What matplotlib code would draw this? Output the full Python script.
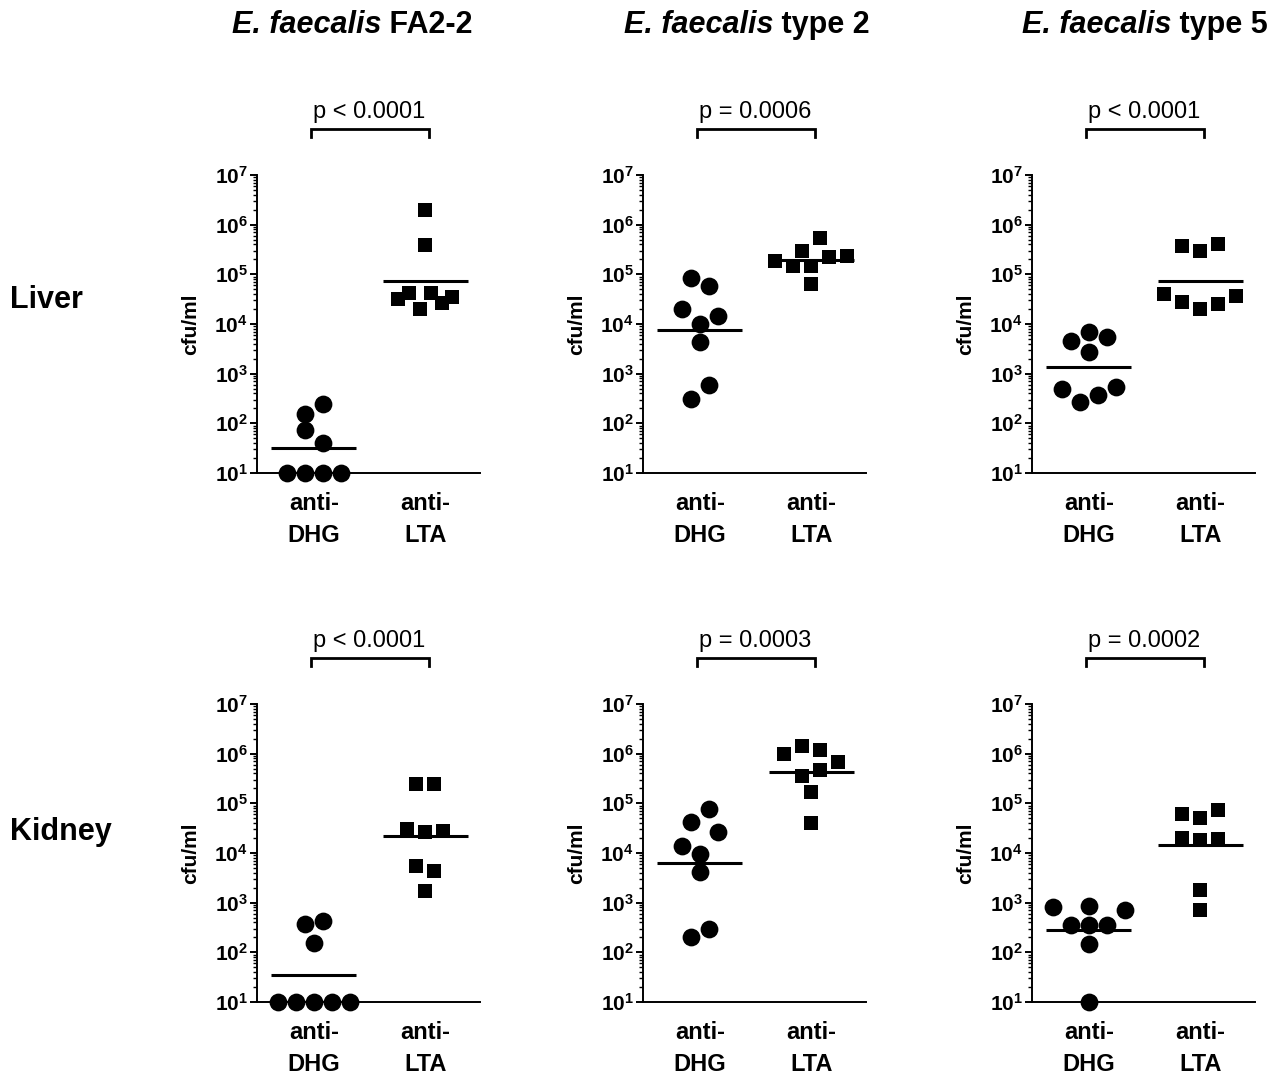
import numpy as np
import matplotlib
matplotlib.use('Agg')
import matplotlib.pyplot as plt
from matplotlib.transforms import blended_transform_factory
from matplotlib.ticker import FixedLocator, NullFormatter

plt.rcParams['font.family'] = ['Liberation Sans', 'DejaVu Sans']
plt.rcParams['mathtext.fontset'] = 'custom'
plt.rcParams['mathtext.rm'] = 'Liberation Sans'
plt.rcParams['mathtext.bf'] = 'Liberation Sans:bold'

# ---------------- data ----------------
strains = ['FA2-2', 'type 2', 'type 5']
organs = ['Liver', 'Kidney']
groups = ['anti-\nDHG', 'anti-\nLTA']

liver_fa22_dhg = [10, 10, 10, 10, 155, 250, 72, 40]
liver_fa22_lta = [2.0e6, 3.9e5, 2.0e4, 4.2e4, 4.2e4, 2.7e4, 3.2e4, 3.5e4]
liver_t2_dhg = [8.3e4, 5.9e4, 1.0e4, 2.0e4, 1.45e4, 4.3e3, 310, 590]
liver_t2_lta = [2.9e5, 5.3e5, 1.5e5, 1.5e5, 2.2e5, 1.85e5, 2.3e5, 6.5e4]
liver_t5_dhg = [6.8e3, 4.6e3, 5.4e3, 2.7e3, 270, 365, 490, 550]
liver_t5_lta = [3.0e5, 3.8e5, 4.1e5, 2.0e4, 2.8e4, 2.5e4, 4.1e4, 3.7e4]

kidney_fa22_dhg = [10, 10, 10, 10, 10, 370, 435, 155]
kidney_fa22_lta = [2.4e5, 2.4e5, 2.7e4, 3.1e4, 2.8e4, 5.6e3, 4.4e3, 1.7e3]
kidney_t2_dhg = [4.3e4, 7.8e4, 1.4e4, 2.6e4, 9.6e3, 4.1e3, 200, 295]
kidney_t2_lta = [1.4e6, 1.2e6, 9.8e5, 6.9e5, 3.5e5, 4.7e5, 1.7e5, 4.1e4]
kidney_t5_dhg = [870, 810, 720, 350, 360, 350, 148, 10]
kidney_t5_lta = [5.0e4, 6.2e4, 7.4e4, 1.8e4, 2.0e4, 1.9e4, 1.8e3, 700]

liver_p = ['p < 0.0001', 'p = 0.0006', 'p < 0.0001']
kidney_p = ['p < 0.0001', 'p = 0.0003', 'p = 0.0002']

panels = [
    [(liver_fa22_dhg, liver_fa22_lta), (liver_t2_dhg, liver_t2_lta), (liver_t5_dhg, liver_t5_lta)],
    [(kidney_fa22_dhg, kidney_fa22_lta), (kidney_t2_dhg, kidney_t2_lta), (kidney_t5_dhg, kidney_t5_lta)],
]
pvals = [liver_p, kidney_p]

# ---------------- layout ----------------
W, H = 1275, 1077
fig = plt.figure(figsize=(W / 100, H / 100), dpi=100)
lefts = [257, 643, 1032]
tops = [175, 704]
aw, ah = 223, 298


def row_layout(ax, xc, vals, d, thr, T):
    """Prism-like scatter layout: points close in y share a row, centred."""
    v = np.asarray(vals, float)
    pts = ax.transData.transform(np.column_stack([np.full(len(v), xc), v]))
    ys = pts[:, 1]
    x0 = pts[0, 0]
    order = sorted(range(len(v)), key=lambda i: -ys[i])
    rows, cur = [], []
    for i in order:
        if cur and ys[cur[0]] - ys[i] > T:
            rows.append(sorted(cur))
            cur = []
        cur.append(i)
    rows.append(sorted(cur))
    xs = np.zeros(len(v))

    def slots(n, sp):
        if n >= 6:
            sp = sp * 3.0 / (n - 1)
        pos = (np.arange(n) - (n - 1) / 2.0) * sp
        return sorted(pos, key=lambda p: (round(abs(p), 6), p))

    def place(row, f, sh):
        for i, p in zip(row, slots(len(row), d * f)):
            xs[i] = p + sh

    def collide(a, b):
        for i in a:
            for j in b:
                if (xs[i] - xs[j]) ** 2 + (ys[i] - ys[j]) ** 2 < thr ** 2:
                    return True
        return False

    factors, shifts, done = [], [], []
    for k, row in enumerate(rows):
        options = [(None, 1, 0.0)]
        if k > 0:
            options.append((2, 1, 0.0))
        options += [(None, 1, -0.5 * d), (None, 1, 0.5 * d), (None, 1.5, 0.0), (None, 2, 0.0)]
        accepted = False
        for fp, fc, sh in options:
            if fp is not None:
                place(rows[k - 1], factors[k - 1] * fp, shifts[k - 1])
                before = [i for r_ in rows[:k - 1] for i in r_]
                if collide(rows[k - 1], before):
                    place(rows[k - 1], factors[k - 1], shifts[k - 1])
                    continue
            place(row, fc, sh)
            if not collide(row, done):
                if fp is not None:
                    factors[k - 1] *= fp
                factors.append(fc)
                shifts.append(sh)
                accepted = True
                break
            if fp is not None:
                place(rows[k - 1], factors[k - 1], shifts[k - 1])
        if not accepted:
            place(row, 1, 0.0)
            factors.append(1)
            shifts.append(0.0)
        done += row
    inv = ax.transData.inverted()
    return inv.transform(np.column_stack([x0 + xs, ys]))[:, 0]


for r in range(2):
    for c in range(3):
        ax = fig.add_axes([lefts[c] / W, 1 - (tops[r] + ah) / H, aw / W, ah / H])
        ax.set_yscale('log')
        ax.set_ylim(10, 1e7)
        ax.set_xlim(-0.51, 1.49)
        for s in ['top', 'right']:
            ax.spines[s].set_visible(False)
        for s in ['left', 'bottom']:
            ax.spines[s].set_linewidth(1.4)
        ax.yaxis.set_major_locator(FixedLocator([10.0 ** k for k in range(1, 8)]))
        ax.set_yticklabels([r'$\mathbf{10^{%d}}$' % k for k in range(1, 8)], fontsize=15)
        ax.yaxis.set_minor_locator(FixedLocator([m * 10.0 ** k for k in range(1, 7) for m in range(2, 10)]))
        ax.yaxis.set_minor_formatter(NullFormatter())
        ax.tick_params(axis='y', which='major', length=5, width=1.4, pad=1.5, direction='out')
        ax.tick_params(axis='y', which='minor', length=2.6, width=1.0, direction='out')
        ax.set_xticks([0, 1])
        ax.set_xticklabels(groups, fontsize=17, fontweight='bold', linespacing=1.5)
        ax.tick_params(axis='x', length=0, pad=14)
        ax.set_ylabel('cfu/ml', fontsize=15, fontweight='bold')
        ax.yaxis.set_label_coords(-0.255, 0.5)

        dhg, lta = panels[r][c]
        for gi, (vals, mk, ms, thr) in enumerate([(dhg, 'o', 12.8, 15.75), (lta, 's', 10, 11.7)]):
            xs = row_layout(ax, gi, vals, d=18.0, thr=thr, T=17.5)
            ax.plot(xs, vals, linestyle='none', marker=mk, ms=ms, color='black',
                    markeredgewidth=0, clip_on=False, zorder=3)
            gm = 10 ** np.mean(np.log10(vals))
            ax.plot([gi - 0.38, gi + 0.38], [gm, gm], color='black', lw=2.2,
                    solid_capstyle='butt', zorder=4)

        tr = blended_transform_factory(ax.transData, ax.transAxes)
        ax.plot([-0.03, -0.03, 1.03, 1.03], [1.128, 1.154, 1.154, 1.128], color='black',
                lw=2.0, transform=tr, clip_on=False, solid_joinstyle='miter')
        ax.text(0.5, 1.191, pvals[r][c], transform=tr, ha='center', va='baseline', fontsize=17)

# titles: italic bold genus/species + bold strain
renderer = fig.canvas.get_renderer()
title_x = [352, 747, 1145]
ty = 1 - 25 / H
for c in range(3):
    t1 = fig.text(0, ty, 'E. faecalis', fontsize=22, fontweight='bold', fontstyle='italic',
                  ha='left', va='center')
    t2 = fig.text(0, ty, ' ' + strains[c], fontsize=22, fontweight='bold', ha='left', va='center')
    w1 = t1.get_window_extent(renderer).width
    w2 = t2.get_window_extent(renderer).width
    x0 = title_x[c] - (w1 + w2) / 2
    t1.set_x(x0 / W)
    t2.set_x((x0 + w1) / W)

row_y = [300, 832]
for r in range(2):
    fig.text(10 / W, 1 - row_y[r] / H, organs[r], ha='left', va='center', fontsize=22,
             fontweight='bold')

fig.savefig('out.png', dpi=100)
